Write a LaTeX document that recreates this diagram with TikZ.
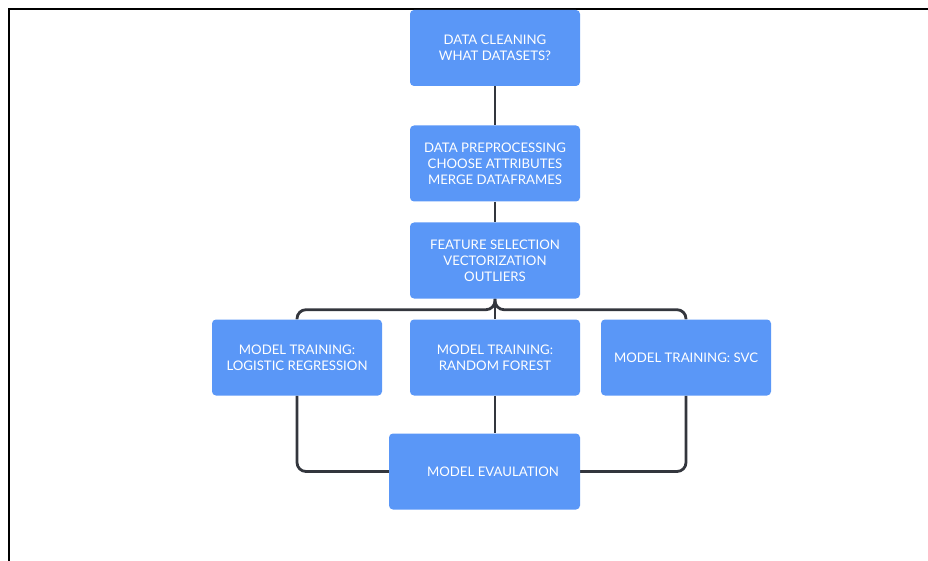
\documentclass[tikz,border=0pt]{standalone}
\usepackage{fontspec}
\setmainfont{Lato}
\usetikzlibrary{backgrounds}
\definecolor{boxblue}{HTML}{5A97F7}
\definecolor{conncol}{HTML}{33363D}
\tikzset{
  stepbox/.style={rectangle, rounded corners=4pt, fill=boxblue, text=white,
    minimum width=170pt, minimum height=76pt, inner sep=0pt, align=center,
    font=\fontsize{13.2}{16}\selectfont},
  conn/.style={draw=conncol, line width=2.8pt, rounded corners=9pt},
}
\begin{document}
\begin{tikzpicture}[x=1pt,y=-1pt]
\useasboundingbox (0,0) rectangle (928,561);
\draw[black, line width=2pt] (8.5,561) -- (8.5,9) -- (928,9);
\node[stepbox] (clean) at (495,48) {DATA CLEANING\\WHAT DATASETS?};
\node[stepbox] (prep) at (495,163.5) {DATA PREPROCESSING\\CHOOSE ATTRIBUTES\\MERGE DATAFRAMES};
\node[stepbox] (feat) at (495,260.5) {FEATURE SELECTION\\VECTORIZATION\\OUTLIERS};
\node[stepbox] (lr) at (297,357.5) {MODEL TRAINING:\\LOGISTIC REGRESSION};
\node[stepbox] (rf) at (495,357.5) {MODEL TRAINING:\\RANDOM FOREST};
\node[stepbox] (svc) at (686,357.5) {MODEL TRAINING: SVC};
\node[stepbox, minimum width=191pt] (ev) at (484.5,471.5) {\hspace*{17pt}MODEL EVAULATION};
\begin{scope}[on background layer]
\draw[conn] (clean.south) -- (prep.north);
\draw[conn] (prep.south) -- (feat.north);
\draw[conn] (feat.south) -- (rf.north);
\draw[conn] (feat.south) -- ++(0,11) -| (lr.north);
\draw[conn] (feat.south) -- ++(0,11) -| (svc.north);
\draw[conn] (rf.south) -- (rf.south |- ev.north);
\draw[conn] (lr.south) |- (ev.west);
\draw[conn] (svc.south) |- (ev.east);
\end{scope}
\end{tikzpicture}
\end{document}
